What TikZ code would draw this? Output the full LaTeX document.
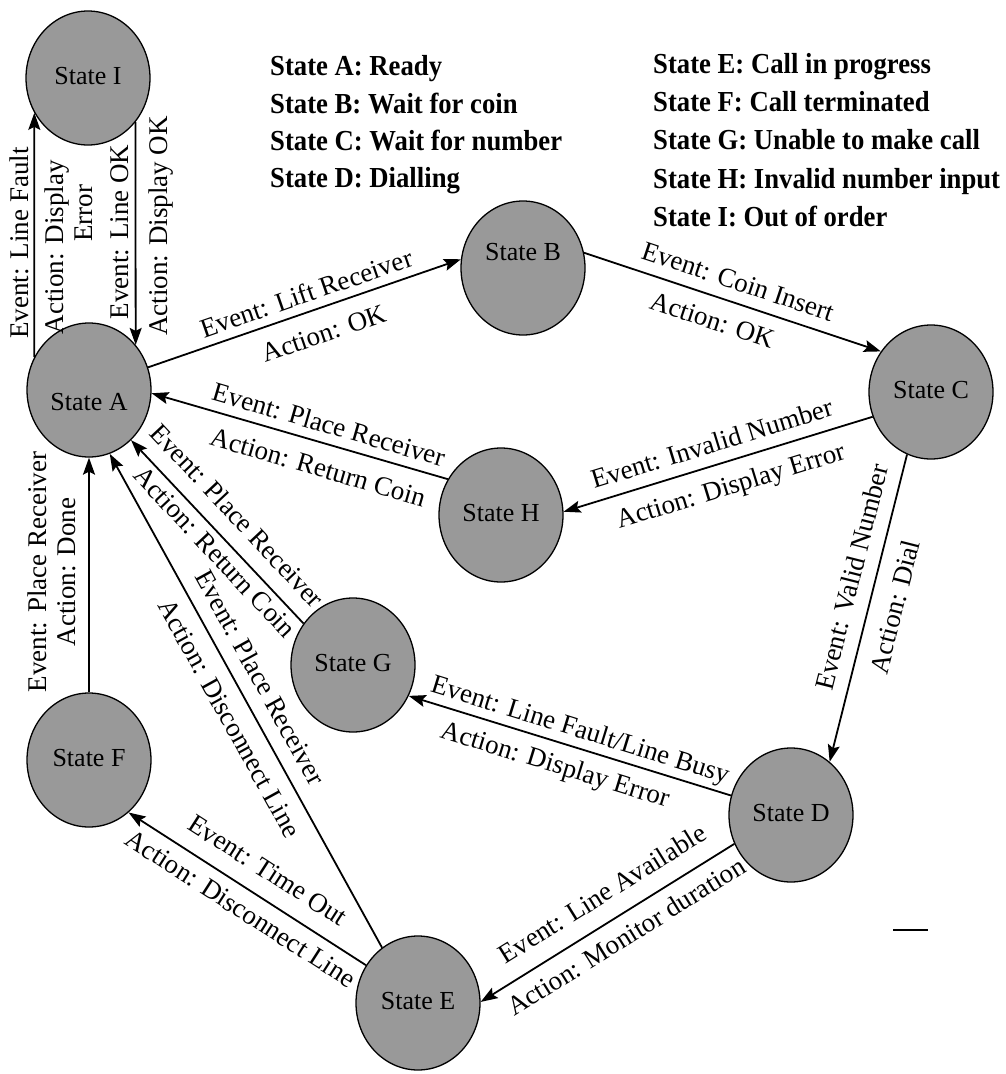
\documentclass[tikz,border=0pt]{standalone}
\usepackage{fontspec}
\setmainfont{Liberation Serif}
\newfontfamily\legendfont{Liberation Serif}[FakeStretch=0.92]
\usetikzlibrary{arrows.meta,shapes.geometric}
\tikzset{
  state/.style={ellipse, draw=black, line width=1.3pt, fill=black!40,
    minimum width=124pt, minimum height=134pt, inner sep=0pt,
    font=\fontsize{26}{28}\selectfont, text height=18pt, text depth=5pt},
  conn/.style={line width=1.8pt, -{Stealth[length=17pt,width=12pt,inset=3pt]}},
  lab/.style={font=\fontsize{27}{29}\selectfont, inner sep=0pt, text height=19pt, text depth=6pt},
  labtwo/.style={font=\fontsize{27}{29}\selectfont, inner sep=0pt, align=center},
  legend/.style={font=\legendfont\bfseries\fontsize{29}{31}\selectfont, anchor=base west, inner sep=0pt},
}
\begin{document}
\begin{tikzpicture}[x=1pt,y=-1pt]
\useasboundingbox (0,0) rectangle (1006,1074);
% states
\node[state] (I) at (88,78) {State I};
\node[state, text height=46pt] (A) at (89,390) {State A};
\node[state, text depth=33pt] (B) at (523,268) {State B};
\node[state] (C) at (931,392) {State C};
\node[state] (H) at (501,515) {State H};
\node[state] (G) at (353,665) {State G};
\node[state] (D) at (791,815) {State D};
\node[state] (F) at (89,760) {State F};
\node[state] (E) at (418,1003) {State E};
% legend
\node[legend] (LA) at (270,75) {State A: Ready};
\node[legend] (LB) at (270,113) {State B: Wait for coin};
\node[legend] (LC) at (270,150) {State C: Wait for number};
\node[legend] (LD) at (270,187) {State D: Dialling};
\node[legend] (LE) at (653,73) {State E: Call in progress};
\node[legend] (LF) at (653,111) {State F: Call terminated};
\node[legend] (LG) at (653,149) {State G: Unable to make call};
\node[legend] (LH) at (653,188) {State H: Invalid number input};
\node[legend] (LI) at (653,226) {State I: Out of order};
% transitions
\draw[conn] (A.149) -- (I.213)
  node[lab, pos=0.467, xshift=-12pt, rotate=90] (l1) {Event: Line Fault}
  node[labtwo, pos=0.45, xshift=34pt, rotate=90] (l2) {Action: Display\\\hspace*{68pt}Error};
\draw[conn] (I.317) -- (A.44)
  node[lab, pos=0.493, xshift=-14pt, rotate=90] (l3) {Event: Line OK}
  node[lab, pos=0.466, xshift=25pt, rotate=90] (l4) {Action: Display OK};
\draw[conn] (A.21) -- (B.172)
  node[lab, sloped, pos=0.525, above=2.3pt] (l5) {Event: Lift Receiver}
  node[lab, sloped, pos=0.536, below=14.4pt] (l6) {Action: OK};
\draw[conn] (B.14) -- (C.141)
  node[lab, sloped, pos=0.496, above=5.5pt] (l7) {Event: Coin Insert}
  node[lab, sloped, pos=0.457, below=12.5pt] (l8) {Action: OK};
\draw[conn] (C.203) -- (H.3)
  node[lab, sloped, pos=0.50, above=5.8pt] (l9) {Event: Invalid Number}
  node[lab, sloped, pos=0.483, below=12.7pt] (l10) {Action: Display Error};
\draw[conn] (H.146) -- (A.357)
  node[lab, sloped, pos=0.42, above=3.4pt] (l11) {Event: Place Receiver}
  node[lab, sloped, pos=0.415, below=13.8pt] (l12) {Action: Return Coin};
\draw[conn] (G.140) -- (A.310)
  node[lab, sloped, pos=0.493, above=9.8pt] (l13) {Event: Place Receiver}
  node[lab, sloped, pos=0.448, below=4.5pt] (l14) {Action: Return Coin};
\draw[conn] (E.123) -- (A.288)
  node[lab, sloped, pos=0.524, above=7.9pt] (l15) {Event: Place Receiver}
  node[lab, sloped, pos=0.487, below=11.7pt] (l16) {Action: Disconnect Line};
\draw[conn] (F.north) -- (A.south)
  node[labtwo, pos=0.513, xshift=-37.5pt, rotate=90] (l17) {Event: Place Receiver\\Action: Done};
\draw[conn] (C.249) -- (D.54)
  node[lab, sloped, pos=0.418, above=7.7pt] (l18) {Event: Valid Number}
  node[lab, sloped, pos=0.475, below=14.7pt] (l19) {Action: Dial};
\draw[conn] (D.162) -- (G.331)
  node[lab, sloped, pos=0.484, above=3.2pt] (l20) {Event: Line Fault/Line Busy}
  node[lab, sloped, pos=0.525, below=10.7pt] (l21) {Action: Display Error};
\draw[conn] (D.207) -- (E.1)
  node[lab, sloped, pos=0.464, above=11.4pt] (l22) {Event: Line Available}
  node[lab, sloped, pos=0.471, below=10.5pt] (l23) {Action: Monitor duration};
\draw[conn] (E.144) -- (F.307)
  node[lab, sloped, pos=0.475, above=11.1pt] (l24) {Event: Time Out}
  node[lab, sloped, pos=0.481, below=9.1pt] (l25) {Action: Disconnect Line};
% stray mark
\draw[line width=1.8pt] (893,930) -- (928,930);
\end{tikzpicture}
\end{document}
